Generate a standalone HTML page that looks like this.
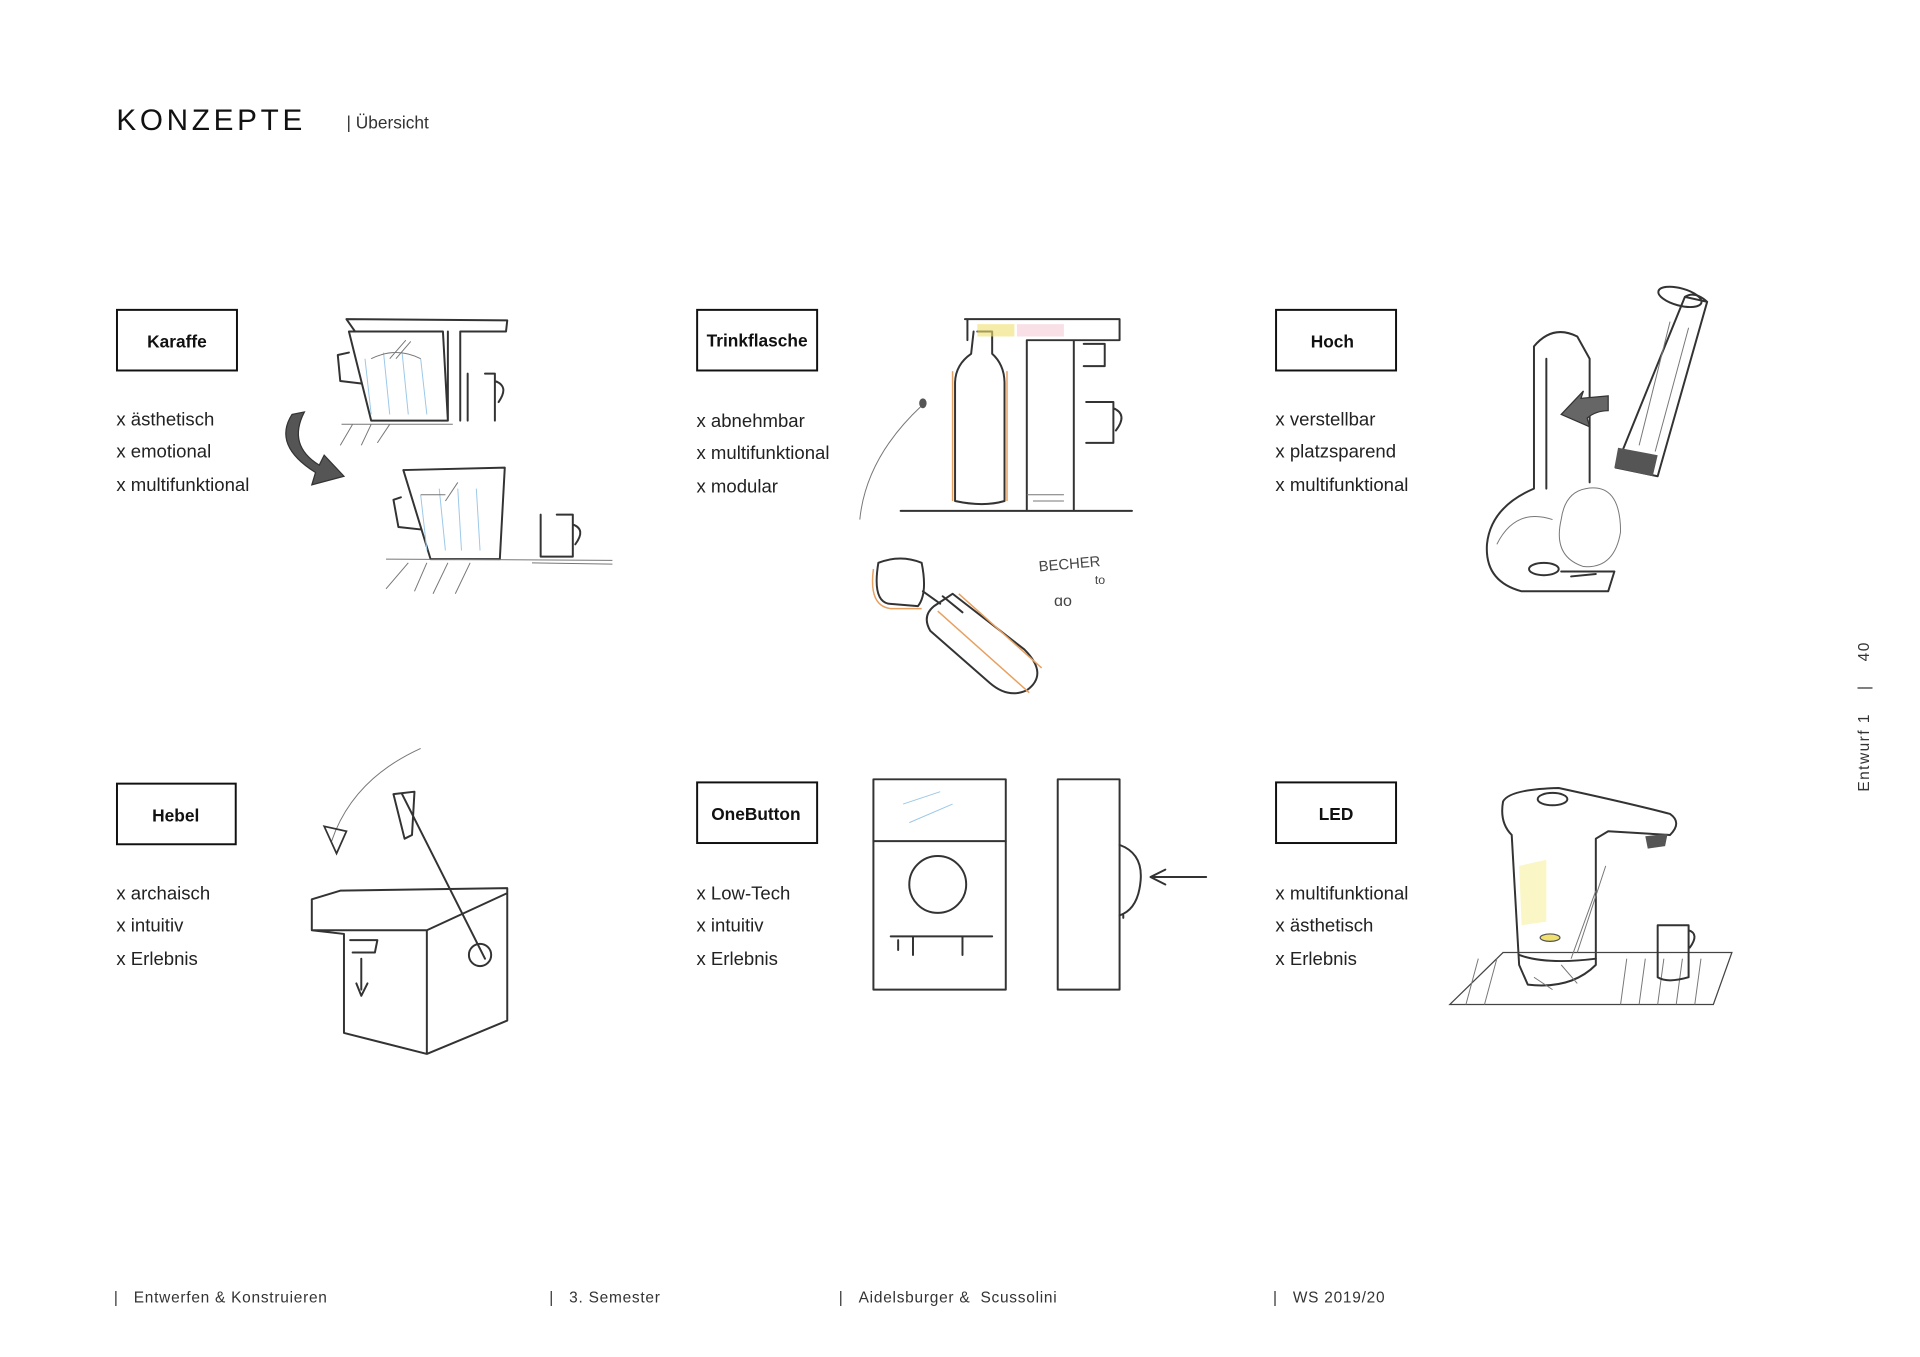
<!DOCTYPE html>
<html><head><meta charset="utf-8"><style>
html,body{margin:0;padding:0;background:#fff;}
svg{display:block;}
text{font-family:"Liberation Sans",sans-serif;}
.s{fill:none;stroke:#333;stroke-width:1.6;stroke-linecap:round;stroke-linejoin:round;}
.t{fill:none;stroke:#777;stroke-width:0.8;}
.b{fill:none;stroke:#9cc8e8;stroke-width:0.8;}
.o{fill:none;stroke:#e8a060;stroke-width:1.2;}
.l{font-size:15px;fill:#222;}
.h{font-size:14px;font-weight:bold;fill:#111;}
.f{font-size:12.5px;fill:#333;letter-spacing:0.6px;}
</style></head><body>
<svg width="1920" height="1357" viewBox="0 0 1552 1097" xmlns="http://www.w3.org/2000/svg">
<text x="94" y="105" font-size="24" letter-spacing="3" fill="#111">KONZEPTE</text>
<text x="280" y="104" font-size="14" fill="#333">| Übersicht</text>

<g fill="none" stroke="#111" stroke-width="1.6">
<rect x="94.5" y="250.5" width="97" height="49"/>
<rect x="563.5" y="250.5" width="97" height="49"/>
<rect x="1031.5" y="250.5" width="97" height="49"/>
<rect x="94.5" y="633.5" width="96" height="49"/>
<rect x="563.5" y="632.5" width="97" height="49"/>
<rect x="1031.5" y="632.5" width="97" height="49"/>
</g>
<text class="h" x="143" y="281" text-anchor="middle">Karaffe</text>
<text class="h" x="612" y="280" text-anchor="middle">Trinkflasche</text>
<text class="h" x="1077" y="281" text-anchor="middle">Hoch</text>
<text class="h" x="142" y="664" text-anchor="middle">Hebel</text>
<text class="h" x="611" y="663" text-anchor="middle">OneButton</text>
<text class="h" x="1080" y="663" text-anchor="middle">LED</text>

<g class="l">
<text x="94" y="344">x ästhetisch</text><text x="94" y="370">x emotional</text><text x="94" y="397">x multifunktional</text>
<text x="563" y="345">x abnehmbar</text><text x="563" y="371">x multifunktional</text><text x="563" y="398">x modular</text>
<text x="1031" y="344">x verstellbar</text><text x="1031" y="370">x platzsparend</text><text x="1031" y="397">x multifunktional</text>
<text x="94" y="727">x archaisch</text><text x="94" y="753">x intuitiv</text><text x="94" y="780">x Erlebnis</text>
<text x="563" y="727">x Low-Tech</text><text x="563" y="753">x intuitiv</text><text x="563" y="780">x Erlebnis</text>
<text x="1031" y="727">x multifunktional</text><text x="1031" y="753">x ästhetisch</text><text x="1031" y="780">x Erlebnis</text>
</g>

<g>
<path class="s" d="M280 258 L410 259 L409 268 L372 268 L372 340 M362 268 L362 340 M282 268 L300 340 L362 340 L358 268 Z M287 268 L280 258"/>
<path class="s" d="M282 285 L273 287 L275 308 L292 310"/>
<path class="t" d="M276 343 L366 343 M285 343 L275 360 M300 343 L292 360 M315 343 L305 358"/>
<path class="s" d="M378 302 L378 340 M392 302 L400 302 L400 340 M400 308 Q412 312 403 325"/>
<path class="b" d="M295 290 L300 335 M310 285 L315 335 M325 285 L330 335 M340 290 L345 335"/>
<path class="t" d="M300 290 Q320 280 340 290 M315 290 L328 275 M320 290 L332 276"/>
<path d="M236 335 Q220 360 255 382 L252 392 L278 385 L262 368 L258 376 Q232 360 246 333 Z" fill="#555" stroke="#333" stroke-width="1"/>
<path class="s" d="M326 380 L408 378 L404 452 L348 452 L326 380 M324 402 L318 404 L322 426 L340 428"/>
<path class="b" d="M340 400 L345 445 M355 395 L360 445 M370 395 L373 445 M385 395 L388 445"/>
<path class="t" d="M340 400 L360 400 M360 405 L370 390"/>
<path class="s" d="M437 416 L437 450 M450 416 L463 416 L463 450 L437 450 M463 424 Q474 428 465 440"/>
<path class="t" d="M312 452 L495 453 M330 455 L312 476 M345 455 L335 478 M362 455 L350 480 M380 455 L368 480 M430 455 L495 456"/>
</g>

<g>
<path class="s" d="M780 258 L905 258 L905 275 L830 275 L830 412 M868 275 L868 412 M782 275 L782 258 M876 278 L893 278 L893 296 L876 296"/>
<path class="s" d="M790 268 L802 268 L802 286 Q812 295 812 310 L812 405 Q795 410 772 405 L772 310 Q772 295 785 286 L787 268"/>
<path d="M790 262 L820 262 L820 272 L790 272Z" fill="#f0e070" opacity="0.6"/>
<path d="M822 262 L860 262 L860 272 L822 272Z" fill="#f0b0c0" opacity="0.4"/>
<path class="o" d="M770 300 L770 405 M814 300 L814 405"/>
<path class="s" d="M878 325 L900 325 L900 358 L878 358 M900 330 Q912 335 902 348"/>
<path class="t" d="M830 400 L860 400 M835 405 L860 405"/>
<path class="s" d="M728 413 L915 413"/>
<path class="t" d="M745 328 Q700 370 695 420"/>
<ellipse cx="746" cy="326" rx="3" ry="4" fill="#555"/>
<path class="s" d="M755 490 L770 480 L828 525 Q848 545 830 558 Q815 565 800 552 L752 510 Q745 498 755 490 Z M762 482 L778 495"/>
<path class="o" d="M758 494 L832 560 M775 480 L842 540"/>
<path class="s" d="M710 455 Q705 485 718 488 L742 490 Q750 480 745 455 Q728 448 710 455"/>
<path class="o" d="M706 460 Q702 490 720 492 L745 492"/>
<path class="s" d="M746 478 L760 488"/>
<text x="840" y="462" font-size="12" fill="#444" font-family="Liberation Mono" transform="rotate(-5 840 462)">BECHER</text>
<text x="885" y="472" font-size="10" fill="#444" font-family="Liberation Mono">to</text>
<text x="852" y="490" font-size="13" fill="#444" font-family="Liberation Mono">ɑo</text>
</g>

<g>
<path class="s" d="M1362 240 L1380 244 L1340 385 L1306 378 Z M1362 240 Q1370 235 1380 244"/>
<ellipse cx="1358" cy="240" rx="18" ry="7" transform="rotate(15 1358 240)" class="s"/>
<path d="M1308 362 L1340 368 L1336 385 L1305 378Z" fill="#555"/>
<path class="t" d="M1350 260 L1325 360 M1365 265 L1338 365"/>
<path class="s" d="M1240 280 Q1255 262 1275 272 L1285 290 L1285 390 M1240 280 L1240 395 Q1205 410 1202 440 Q1200 470 1230 478 L1300 478 L1305 462 L1262 462 M1250 290 L1250 395"/>
<path class="t" d="M1282 395 Q1310 390 1310 430 Q1305 460 1280 458 Q1255 450 1262 420 Q1265 398 1282 395 M1210 440 Q1225 410 1255 420"/>
<ellipse cx="1248" cy="460" rx="12" ry="5" class="s"/>
<path class="s" d="M1270 466 L1290 464"/>
<path d="M1300 320 L1278 322 L1280 316 L1262 335 L1285 345 L1283 338 Q1290 332 1300 332 Z" fill="#666" stroke="#333"/>
</g>

<g>
<path class="s" d="M252 727 L275 720 L410 718 L410 825 L345 852 L278 835 L278 755 M252 727 L252 752 L345 752 L345 852 M345 752 L410 722 M252 752 L278 755"/>
<path class="s" d="M325 642 L392 775 M318 642 L335 640 L333 675 L327 678 Z"/>
<circle cx="388" cy="772" r="9" class="s"/>
<path class="t" d="M340 605 Q285 630 268 680"/>
<path d="M262 668 L272 690 L280 672 Z" fill="none" stroke="#333" stroke-width="1.4"/>
<path class="s" d="M283 760 L305 760 L303 770 L285 770 M292 775 L292 800 M288 795 L292 805 L297 795"/>
</g>

<g>
<rect x="706" y="630" width="107" height="170" class="s"/>
<path class="s" d="M706 680 L813 680 M720 757 L802 757 M738 757 L738 772 M778 757 L778 772 M726 760 L726 768"/>
<circle cx="758" cy="715" r="23" class="s"/>
<rect x="855" y="630" width="50" height="170" class="s"/>
<path class="s" d="M905 683 Q924 690 922 712 Q920 735 905 740 M908 740 L908 742"/>
<path class="s" d="M975 709 L932 709 M942 703 L930 709 L942 715"/>
<path class="b" d="M730 650 L760 640 M735 665 L770 650"/>
</g>

<g>
<path class="s" d="M1215 648 Q1220 638 1260 637 Q1320 650 1350 658 Q1360 665 1350 675 L1300 672 L1290 678 L1290 780 Q1270 800 1235 796 L1228 780 L1222 675 Q1212 665 1215 648 Z"/>
<ellipse cx="1255" cy="646" rx="12" ry="5" class="s"/>
<path class="s" d="M1228 772 Q1250 780 1290 775"/>
<path d="M1330 676 L1348 674 L1346 684 L1332 686Z" fill="#555"/>
<path d="M1172 812 L1215 770 L1400 770 L1385 812 Z" fill="none" stroke="#444" stroke-width="1"/>
<path class="t" d="M1185 812 L1195 775 M1200 812 L1210 775 M1310 812 L1315 775 M1325 812 L1330 775 M1340 812 L1345 775 M1355 812 L1360 775 M1370 812 L1375 775 M1240 790 L1255 800 M1262 780 L1275 795"/>
<path class="s" d="M1340 748 L1340 790 Q1348 795 1365 790 L1365 748 Z M1365 752 Q1374 755 1366 766"/>
<ellipse cx="1253" cy="758" rx="8" ry="3" fill="#f0e070" stroke="#555"/>
<path d="M1228 700 L1250 695 L1250 745 L1230 748Z" fill="#f6f0a0" opacity="0.6"/>
<path class="t" d="M1298 700 L1275 770 M1290 720 L1270 775"/>
</g>

<text transform="translate(1511 640) rotate(-90)" font-size="12.5" fill="#333" letter-spacing="1.2">Entwurf 1&#160;&#160;&#160;&#160;|&#160;&#160;&#160;&#160;40</text>

<g class="f">
<text x="92" y="1053">|&#160;&#160;&#160;Entwerfen &amp; Konstruieren</text>
<text x="444" y="1053">|&#160;&#160;&#160;3. Semester</text>
<text x="678" y="1053">|&#160;&#160;&#160;Aidelsburger &amp;&#160;&#160;Scussolini</text>
<text x="1029" y="1053">|&#160;&#160;&#160;WS 2019/20</text>
</g>
</svg>
</body></html>
